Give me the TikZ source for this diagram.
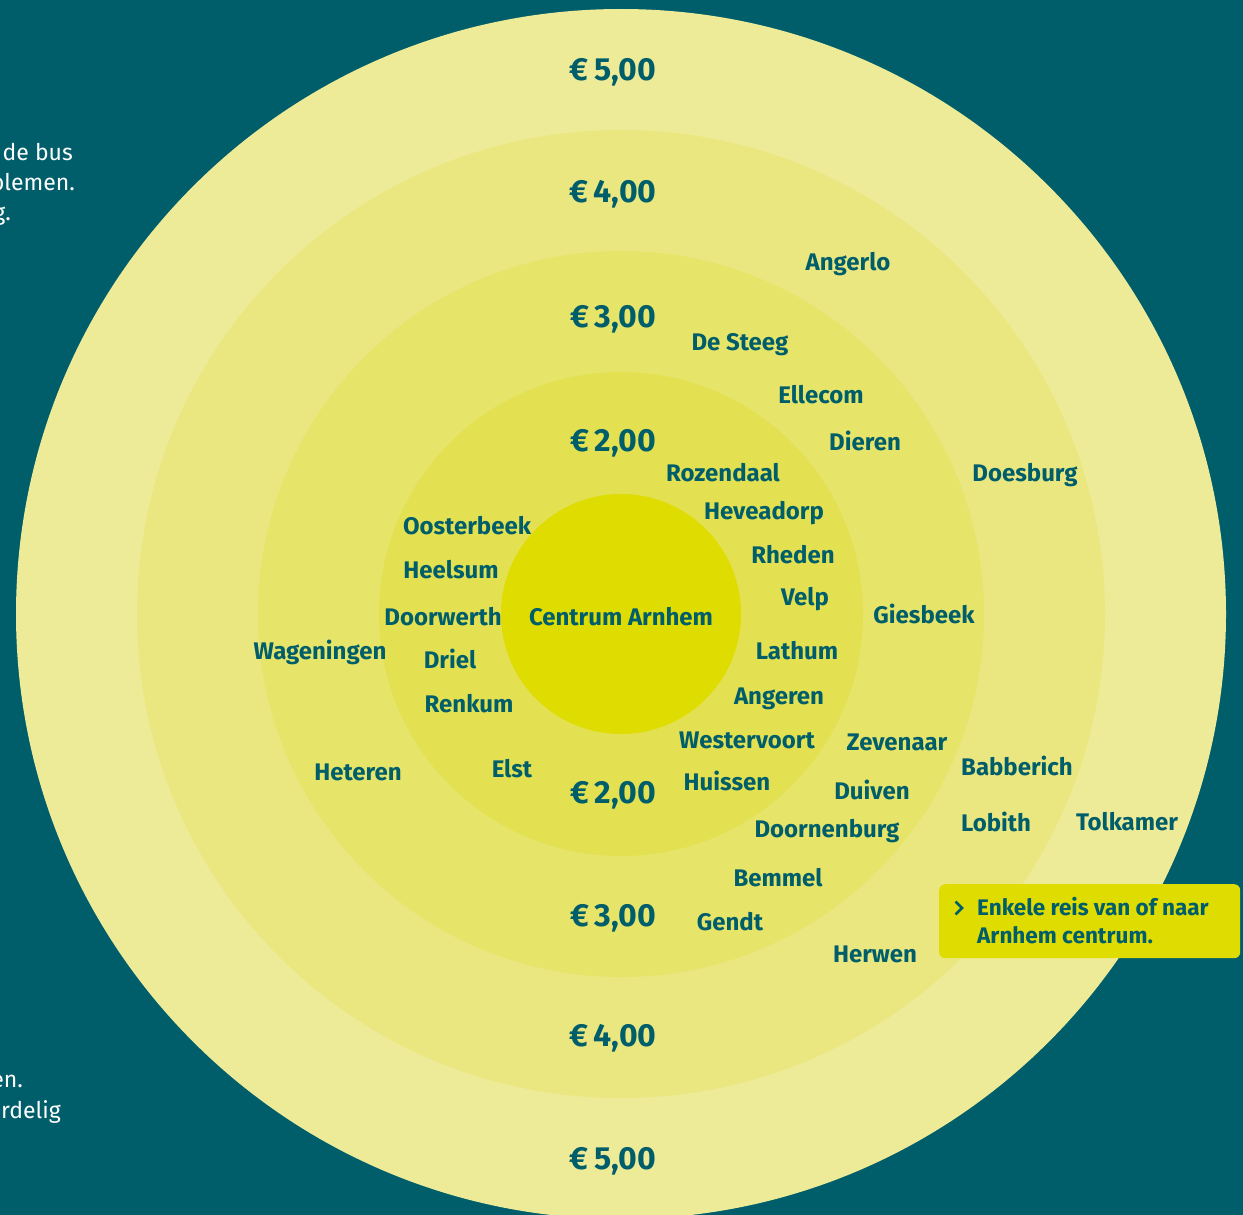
\documentclass[tikz,border=0pt]{standalone}
\usepackage{fontspec}
\setmainfont{Fira Sans}
\usepackage{xcolor}
\usetikzlibrary{positioning}

\definecolor{teal}{HTML}{005E6B}
\definecolor{ringfive}{HTML}{EEEB98}
\definecolor{ringfour}{HTML}{EAE781}
\definecolor{ringthree}{HTML}{E6E469}
\definecolor{ringtwo}{HTML}{E3E151}
\definecolor{centre}{HTML}{DEDC00}

\tikzset{
    place/.style={text=teal, font=\fontsize{24}{27}\selectfont\bfseries, inner sep=0pt, yshift=-1.5pt},
    price/.style={text=teal, font=\fontsize{32}{36}\selectfont\bfseries, inner sep=0pt, yshift=-2.5pt},
    sidetext/.style={text=white, font=\fontsize{23}{32}\selectfont, inner sep=0pt, anchor=east},
}

\begin{document}
\begin{tikzpicture}[x=1pt, y=-1pt]

        % Background and zones
        \fill[teal] (0,0) rectangle (1243,1215);
        \useasboundingbox (0,0) rectangle (1243,1215);
        \fill[ringfive] (621,614) circle[radius=605];
        \fill[ringfour] (621,614) circle[radius=484];
        \fill[ringthree] (621,614) circle[radius=363];
        \fill[ringtwo] (621,614) circle[radius=242];
        \fill[centre] (621,614) circle[radius=120];

        % Side text (cut off by the page)
        \node (sidea) [sidetext] at (73,152) {de bus};
        \node (sideb) [sidetext] at (75,184) {problemen.};
        \node (sidec) [sidetext] at (11,216) {g.};
        \node (sided) [sidetext] at (23,1081) {en.};
        \node (sidee) [sidetext] at (61,1112) {voordelig};

        % Prices
        \node (pricefivetop) [price] at (613,70) {€\,5,00};
        \node (pricefourtop) [price] at (613,192) {€\,4,00};
        \node (pricethreetop) [price] at (613,317) {€\,3,00};
        \node (pricetwotop) [price] at (613,441) {€\,2,00};
        \node (pricetwobottom) [price] at (613,793) {€\,2,00};
        \node (pricethreebottom) [price] at (613,916) {€\,3,00};
        \node (pricefourbottom) [price] at (613,1036) {€\,4,00};
        \node (pricefivebottom) [price] at (613,1159) {€\,5,00};

        % Places
        \node (centrum) [place] at (621,615) {Centrum Arnhem};
        \node (angerlo) [place] at (848,263) {Angerlo};
        \node (desteeg) [place] at (740,343) {De Steeg};
        \node (ellecom) [place] at (821,393) {Ellecom};
        \node (dieren) [place] at (865,439) {Dieren};
        \node (doesburg) [place] at (1025,474) {Doesburg};
        \node (rozendaal) [place] at (723,471) {Rozendaal};
        \node (heveadorp) [place] at (764,512) {Heveadorp};
        \node (oosterbeek) [place] at (467,524) {Oosterbeek};
        \node (heelsum) [place] at (451,568) {Heelsum};
        \node (rheden) [place] at (793,553) {Rheden};
        \node (velp) [place] at (805,598) {Velp};
        \node (giesbeek) [place] at (924,612) {Giesbeek};
        \node (doorwerth) [place] at (443,615) {Doorwerth};
        \node (wageningen) [place] at (320,651) {Wageningen};
        \node (driel) [place] at (450,657) {Driel};
        \node (lathum) [place] at (797,649) {Lathum};
        \node (renkum) [place] at (469,702) {Renkum};
        \node (angeren) [place] at (779,697) {Angeren};
        \node (westervoort) [place] at (747,739) {Westervoort};
        \node (zevenaar) [place] at (897,741) {Zevenaar};
        \node (babberich) [place] at (1017,764) {Babberich};
        \node (heteren) [place] at (358,771) {Heteren};
        \node (elst) [place] at (512,767) {Elst};
        \node (huissen) [place] at (727,779) {Huissen};
        \node (duiven) [place] at (872,788) {Duiven};
        \node (lobith) [place] at (996,820) {Lobith};
        \node (tolkamer) [place] at (1127,820) {Tolkamer};
        \node (doornenburg) [place] at (827,830) {Doornenburg};
        \node (bemmel) [place] at (778,876) {Bemmel};
        \node (gendt) [place] at (730,920) {Gendt};
        \node (herwen) [place] at (875,953) {Herwen};

        % Legend box
        \node (legend) [fill=centre, rounded corners=6pt, minimum width=301pt, minimum height=74pt, anchor=north west] at (939,884) {};
        \draw[teal, line width=2.6pt] (955.5,901.5) -- (962,908) -- (955.5,914.5);
        \node (legendtext) [place, anchor=north west, align=left, font=\fontsize{22.5}{28}\selectfont\bfseries] at (977,896) {Enkele reis van of naar\\Arnhem centrum.};

    \end{tikzpicture}
\end{document}
